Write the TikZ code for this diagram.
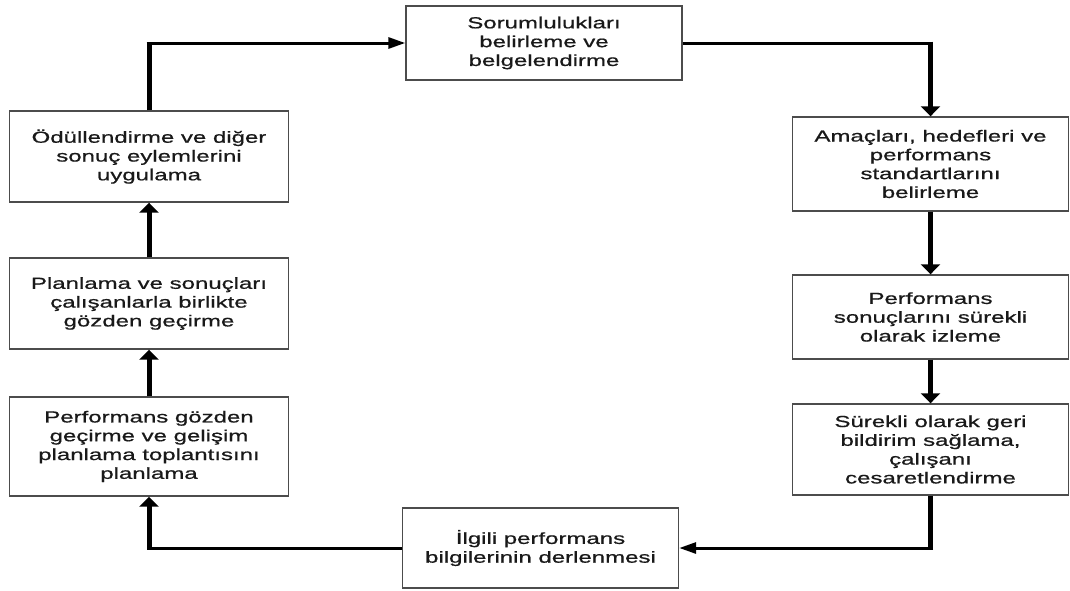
\documentclass[tikz,border=0pt]{standalone}
\usepackage{fontspec}
\setmainfont{Liberation Sans}[FakeStretch=1.5, FakeBold=0.8]
\usetikzlibrary{arrows.meta}
\begin{document}
\begin{tikzpicture}[x=1pt,y=-1pt,
  box/.style={draw=black!70, line width=1.4pt, inner sep=0pt, align=center,
    font=\fontsize{16}{18.8}\selectfont, text=black!90, minimum width=276pt},
  hline/.style={line width=3pt, black},
  vline/.style={line width=5pt, black},
  harr/.style={-{Triangle[length=17pt,width=11pt]}},
  varr/.style={-{Triangle[length=10pt,width=19pt]}}]
\useasboundingbox (0,0) rectangle (1070,590);
% boxes
\node[box, minimum height=74pt] (T) at (544,43) {Sorumlulukları\\belirleme ve\\belgelendirme};
\node[box, minimum height=94pt] (R1) at (930.5,164) {Amaçları, hedefleri ve\\performans\\standartlarını\\belirleme};
\node[box, minimum height=84pt] (R2) at (930.5,317) {Performans\\sonuçlarını sürekli\\olarak izleme};
\node[box, minimum height=91pt] (R3) at (930.5,449.5) {Sürekli olarak geri\\bildirim sağlama,\\çalışanı\\cesaretlendirme};
\node[box, minimum height=80pt] (B) at (540.5,548) {İlgili performans\\bilgilerinin derlenmesi};
\node[box, minimum width=279pt, minimum height=91pt] (L1) at (149,156.5) {Ödüllendirme ve diğer\\sonuç eylemlerini\\uygulama};
\node[box, minimum width=279pt, minimum height=91pt] (L2) at (149,303.5) {Planlama ve sonuçları\\çalışanlarla birlikte\\gözden geçirme};
\node[box, minimum width=279pt, minimum height=99pt] (L3) at (149,446.5) {Performans gözden\\geçirme ve gelişim\\planlama toplantısını\\planlama};
% corners
\coordinate (c1) at (R1.north |- T.east);
\coordinate (c4) at (R3.south |- B.east);
\coordinate (c5) at (L3.south |- B.west);
\coordinate (c8) at (L1.north |- T.west);
% connectors
\draw[hline] (T.east) -- ([xshift=2.5pt]c1);
\draw[vline, varr] ([yshift=1.5pt]c1) -- (R1.north);
\draw[vline, varr] (R1.south) -- (R2.north);
\draw[vline, varr] (R2.south) -- (R3.north);
\draw[vline] (R3.south) -- ([yshift=-1.5pt]c4);
\draw[hline, harr] ([xshift=2.5pt]c4) -- (B.east);
\draw[hline] (B.west) -- ([xshift=-2.5pt]c5);
\draw[vline, varr] ([yshift=-1.5pt]c5) -- (L3.south);
\draw[vline, varr] (L3.north) -- (L2.south);
\draw[vline, varr] (L2.north) -- (L1.south);
\draw[vline] (L1.north) -- ([yshift=1.5pt]c8);
\draw[hline, harr] ([xshift=-2.5pt]c8) -- (T.west);
\end{tikzpicture}
\end{document}
